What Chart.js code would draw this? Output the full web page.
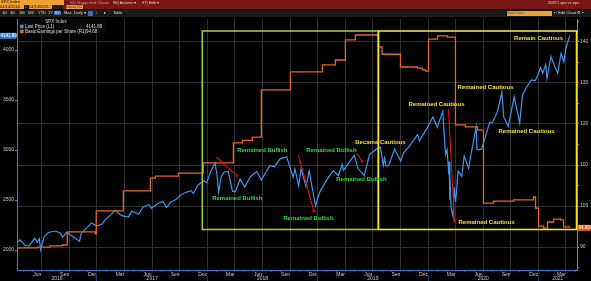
<!DOCTYPE html>
<html>
<head>
<meta charset="utf-8">
<script src="https://cdn.jsdelivr.net/npm/chart.js@4.4.1/dist/chart.umd.min.js"></script>
<style>
  html, body { margin: 0; padding: 0; background: #000; }
  #wrap { position: relative; width: 591px; height: 281px; overflow: hidden; background: #000;
          font-family: 'Liberation Sans', Arial, sans-serif; }
  #wrap canvas { position: absolute; left: 0; top: 0; }
  .hd { position: absolute; font-size: 4px; line-height: 4.5px; white-space: nowrap; color: #ddd; }
  .or { background: #f0a030; color: #111; }
</style>
</head>
<body>
<div id="wrap">
  <canvas id="chart" width="591" height="281"></canvas>

  <!-- Bloomberg header bars -->
  <div class="hd" style="left:63px;top:0;width:528px;height:9px;background:#7a1616;"></div>
  <div class="hd or" style="left:0;top:0;width:63px;height:4.5px;padding-left:1px;">SPX Index</div>
  <div class="hd" style="left:0;top:4.5px;width:63px;height:4.5px;background:#1c1c1c;"></div>
  <div class="hd or" style="left:0;top:5px;width:24px;height:4px;">04/14/2016</div>
  <div class="hd" style="left:25px;top:5px;">-</div>
  <div class="hd or" style="left:29px;top:5px;width:23px;height:4px;">04/14/2021</div>
  <div class="hd or" style="left:66px;top:5px;width:17px;height:4px;">Local CCY</div>
  <div class="hd" style="left:70px;top:0.5px;color:#c99;">96) Suggested Charts</div>
  <div class="hd" style="left:113px;top:0.5px;">96) Actions ▾</div>
  <div class="hd" style="left:142px;top:0.5px;">97) Edit ▾</div>
  <div class="hd" style="left:548px;top:1px;">20371 spx vs eps</div>
  <div class="hd" style="left:0;top:10px;width:591px;height:6.5px;background:#1a1a1a;"></div>
  <div class="hd" style="left:2px;top:11px;">1D</div>
  <div class="hd" style="left:10px;top:11px;">3D</div>
  <div class="hd" style="left:19px;top:11px;">1M</div>
  <div class="hd" style="left:28px;top:11px;">6M</div>
  <div class="hd" style="left:38px;top:11px;">YTD</div>
  <div class="hd" style="left:48px;top:11px;">1Y</div>
  <div class="hd" style="left:54px;top:10.5px;background:#2f6fc8;color:#fff;padding:0 1px;">5Y</div>
  <div class="hd" style="left:64px;top:11px;">Max</div>
  <div class="hd" style="left:74px;top:11px;">Daily ▾</div>
  <div class="hd" style="left:88px;top:10.5px;width:5px;height:5px;background:#2f6fc8;"></div>
  <div class="hd" style="left:95px;top:11px;">↕</div>
  <div class="hd" style="left:104px;top:11px;">▸</div>
  <div class="hd" style="left:113px;top:11px;">Table</div>
  <div class="hd or" style="left:507px;top:11px;width:45px;height:4.5px;color:#555;">Add Data</div>
  <div class="hd" style="left:554px;top:11px;">▪ ⁄ Edit Chart ⚙ ▪</div>
</div>

<script>
// S&P 500 last price (left axis). x = months since 1 Jan 2016
var spxMonths = [3.43, 3.63, 4.13, 4.6, 5.23, 5.5, 5.73, 5.87, 6.23, 6.7, 7.47, 8.0, 8.27, 8.7, 9.43,
  10.1, 10.27, 10.8, 11.4, 11.97,
  12.6, 12.83, 13.47, 14.0, 14.67, 15.4, 15.8, 16.53, 17.0, 17.6, 17.93, 18.83, 19.2, 19.57, 20.0,
  20.63, 21.13, 21.63, 22.23, 22.47, 22.97, 23.57, 23.93,
  24.37, 24.83, 25.03, 25.23, 25.5, 25.83, 26.27, 26.73, 27.03, 27.57, 28.07, 28.67, 29.37, 29.87,
  30.8, 31.3, 31.93, 32.63, 33.33, 33.53, 33.93, 34.2, 34.73, 35.07, 35.43, 35.77, 36.0,
  36.3, 37.0, 37.7, 38.23, 38.67, 38.8, 39.97, 40.4, 41.07, 41.63, 42.47, 42.83, 43.13, 43.27,
  43.43, 43.73, 44.37, 45.03, 45.33, 45.97, 46.87, 47.07, 47.97,
  48.53, 49.0, 49.6, 49.9, 50.07, 50.27, 50.3, 50.37, 50.4, 50.5, 50.73, 50.83, 51.0, 51.27,
  51.67, 51.93, 52.4, 53.23, 53.33, 53.83, 54.7, 55.0, 55.57, 56.03, 56.23, 56.73, 57.37, 57.97,
  58.27, 58.77, 59.23, 59.67, 59.97,
  60.23, 60.47, 60.8, 60.93, 61.37, 61.8, 62.1, 62.47, 62.77, 63.0, 63.4];
var spxValues = [2082, 2102, 2050, 2040, 2119, 2077, 2113, 2000, 2130, 2175, 2190, 2171, 2128, 2177, 2133,
  2085, 2163, 2213, 2271, 2239,
  2263, 2296, 2349, 2396, 2344, 2329, 2388, 2357, 2430, 2453, 2419, 2477, 2480, 2425, 2477,
  2508, 2552, 2575, 2594, 2565, 2648, 2690, 2674,
  2786, 2873, 2762, 2581, 2732, 2780, 2786, 2588, 2582, 2708, 2630, 2733, 2786, 2699,
  2846, 2833, 2914, 2931, 2728, 2809, 2641, 2814, 2633, 2790, 2610, 2440, 2520,
  2596, 2704, 2793, 2743, 2855, 2798, 2946, 2812, 2744, 2954, 3014, 3026, 2845, 2919,
  2840, 2847, 3009, 2888, 2970, 3038, 3154, 3093, 3231,
  3330, 3226, 3386, 2954, 3003, 2747, 2882, 2500, 2711, 2420, 2330, 2630, 2480, 2790,
  2737, 2940, 2820, 3232, 3002, 3009, 3276, 3271, 3390, 3580, 3332, 3237, 3534, 3270,
  3550, 3635, 3702, 3694, 3756,
  3824, 3768, 3855, 3714, 3934, 3829, 3768, 3968, 3881, 4020, 4141.89];

// Basic earnings per share (right axis), value after each change
var epsMonths = [3.32, 5.61, 6.91, 8.22, 8.76, 11.81, 11.92, 14.86, 17.8, 18.34, 20.84, 23.56, 26.83,
  27.81, 28.9, 29.87, 33.03, 36.51, 37.93, 39.01, 40.1, 42.6, 43.0, 45.0, 46.85, 47.39, 47.72,
  48.05, 49.03, 50.11, 50.98, 52.07, 53.38, 54.03, 55.12, 57.3, 59.47, 59.69, 60.02, 60.56, 61.0,
  61.65, 62.41, 62.74, 63.4];
var epsValues = [89.8, 90.0, 90.3, 90.5, 93.7, 93.2, 98.8, 103.7, 106.8, 107.3, 108.0, 110.5, 115.4,
  116.0, 116.8, 128.3, 132.7, 134.4, 135.6, 140.5, 141.7, 138.8, 137.0, 133.9, 133.6, 133.2, 132.9,
  140.7, 141.5, 141.2, 119.8, 119.3, 118.5, 100.7, 101.2, 101.5, 102.2, 99.5, 95.1, 94.6, 96.1,
  96.8, 96.6, 94.9, 94.68];

var monthNames = ['Jan', 'Feb', 'Mar', 'Apr', 'May', 'Jun', 'Jul', 'Aug', 'Sep', 'Oct', 'Nov', 'Dec'];
var yearLabels = ['2016', '2017', '2018', '2019', '2020', '2021'];
var yearCentres = [7.65, 18, 30, 42, 54, 62.1];
var yearBounds = [12, 24, 36, 48, 60];
var leftTicks = [2000, 2500, 3000, 3500, 4000];

// annotations, in (month, index level)
var noteText = ['Remained Bullish', 'Remained Bullish', 'Remained Bullish', 'Remained Bullish',
  'Remained Bullish', 'Became Cautious', 'Remained Cautious', 'Remained Cautious',
  'Remained Cautious', 'Remained Cautious', 'Remain Cautious'];
var noteMonth = [29.98, 27.26, 34.99, 37.49, 40.76, 42.82, 48.92, 54.25, 58.71, 54.36, 60.02];
var noteLevel = [3000, 2520, 2320, 3000, 2710, 3080, 3460, 3630, 3190, 2280, 4120];
var noteColor = ['#22e030', '#22e030', '#22e030', '#22e030', '#22e030', '#f2e21e', '#f2e21e',
  '#f2e21e', '#f2e21e', '#f2e21e', '#f2e21e'];

var arrowFrom = [[24.98, 2930], [33.9, 2950], [40.21, 2970], [50.22, 3410]];
var arrowTo = [[27.37, 2730], [35.64, 2370], [40.97, 2870], [50.88, 2270]];

var boxFrom = [23.45, 42.6];
var boxTo = [42.6, 64.15];
var boxTop = 4190, boxBottom = 2205;
var boxColor = ['#9ccc1a', '#f4e41c'];

var BLUE = '#3b97ea', ORANGE = '#e8641e', GRID = '#303030', TXT = '#c8c8c8';
var FONT = "'Liberation Sans', Arial, sans-serif";

var overlay = {
  id: 'overlay',
  afterDatasetsDraw: function (chart) {
    var ctx = chart.ctx, x = chart.scales.x, y = chart.scales.y;
    ctx.save();
    // boxes
    ctx.lineWidth = 1.6;
    for (var b = 0; b < boxFrom.length; b++) {
      var x0 = x.getPixelForValue(boxFrom[b]), x1 = x.getPixelForValue(boxTo[b]);
      var y0 = y.getPixelForValue(boxTop), y1 = y.getPixelForValue(boxBottom);
      ctx.strokeStyle = boxColor[b];
      ctx.strokeRect(x0, y0, x1 - x0, y1 - y0);
    }
    // red arrows
    ctx.strokeStyle = '#e01010';
    ctx.fillStyle = '#e01010';
    ctx.lineWidth = 1.1;
    for (var a = 0; a < arrowFrom.length; a++) {
      var ax = x.getPixelForValue(arrowFrom[a][0]), ay = y.getPixelForValue(arrowFrom[a][1]);
      var bx = x.getPixelForValue(arrowTo[a][0]), by = y.getPixelForValue(arrowTo[a][1]);
      var ang = Math.atan2(by - ay, bx - ax);
      ctx.beginPath();
      ctx.moveTo(ax, ay);
      ctx.lineTo(bx - 2 * Math.cos(ang), by - 2 * Math.sin(ang));
      ctx.stroke();
      ctx.beginPath();
      ctx.moveTo(bx, by);
      ctx.lineTo(bx - 3.5 * Math.cos(ang - 0.5), by - 3.5 * Math.sin(ang - 0.5));
      ctx.lineTo(bx - 3.5 * Math.cos(ang + 0.5), by - 3.5 * Math.sin(ang + 0.5));
      ctx.closePath();
      ctx.fill();
    }
    // text notes
    ctx.font = 'bold 6px ' + FONT;
    ctx.textAlign = 'center';
    ctx.textBaseline = 'middle';
    for (var n = 0; n < noteText.length; n++) {
      ctx.fillStyle = noteColor[n];
      ctx.fillText(noteText[n], x.getPixelForValue(noteMonth[n]), y.getPixelForValue(noteLevel[n]));
    }
    ctx.restore();
  },
  afterDraw: function (chart) {
    var ctx = chart.ctx, y = chart.scales.y, y1 = chart.scales.y1;
    var lastSpx = spxValues[spxValues.length - 1], lastEps = epsValues[epsValues.length - 1];
    ctx.save();
    ctx.font = '4.5px ' + FONT;
    ctx.textBaseline = 'middle';
    // last value tags
    var ly = y.getPixelForValue(lastSpx);
    ctx.fillStyle = '#2f86e0';
    ctx.fillRect(0, ly - 3, 16.5, 6);
    ctx.fillStyle = '#fff';
    ctx.textAlign = 'left';
    ctx.fillText(lastSpx.toFixed(2), 0.5, ly);
    var ry = y1.getPixelForValue(lastEps);
    ctx.fillStyle = ORANGE;
    ctx.fillRect(577.5, ry - 3, 14, 6);
    ctx.fillStyle = '#fff';
    ctx.fillText(lastEps.toFixed(2), 578.5, ry);
    // legend box
    var l = chart.chartArea.left + 1, t = chart.chartArea.top;
    ctx.fillStyle = '#080808';
    ctx.fillRect(l, t, 88, 15);
    ctx.fillStyle = '#cfcfcf';
    ctx.textAlign = 'center';
    ctx.fillText('SPX Index', l + 38, t + 2.5);
    ctx.textAlign = 'left';
    var rows = [['Last Price (L1)', lastSpx.toFixed(2), BLUE, 7.5], ['Basic Earnings per Share (R1)', lastEps.toFixed(2), ORANGE, 12.5]];
    for (var r = 0; r < rows.length; r++) {
      ctx.fillStyle = rows[r][2];
      ctx.fillRect(l + 2, t + rows[r][3] - 1.8, 3.6, 3.6);
      ctx.fillStyle = '#dcdcdc';
      ctx.fillText(rows[r][0], l + 7, t + rows[r][3]);
      ctx.fillText(rows[r][1], l + 68, t + rows[r][3]);
    }
    ctx.restore();
  }
};

function pts(xs, ys) {
  return xs.map(function (m, i) { return { x: m, y: ys[i] }; });
}

new Chart(document.getElementById('chart'), {
  type: 'line',
  data: {
    datasets: [
      { label: 'Basic Earnings per Share (R1)', data: pts(epsMonths, epsValues), yAxisID: 'y1',
        borderColor: ORANGE, borderWidth: 1.3, pointRadius: 0, stepped: true, fill: false },
      { label: 'Last Price (L1)', data: pts(spxMonths, spxValues), yAxisID: 'y',
        borderColor: BLUE, borderWidth: 1.2, pointRadius: 0, tension: 0, fill: false }
    ]
  },
  options: {
    responsive: false,
    animation: false,
    layout: { padding: { top: 19, left: 0, right: 0, bottom: 0 } },
    plugins: { legend: { display: false }, tooltip: { enabled: false } },
    scales: {
      x: {
        type: 'linear', position: 'bottom', min: 3.3, max: 64.2, weight: 0,
        afterBuildTicks: function (s) {
          var t = [];
          for (var m = 4; m <= 64; m++) t.push({ value: m });
          s.ticks = t;
        },
        afterFit: function (s) { s.height = 6; },
        ticks: {
          autoSkip: false, maxRotation: 0, padding: 0, labelOffset: -4.6, color: TXT,
          font: { family: FONT, size: 5 },
          callback: function (v) { return v % 3 === 0 ? monthNames[(v - 1) % 12] : ''; }
        },
        grid: {
          color: function (c) { return c.tick && c.tick.value % 3 === 0 ? GRID : 'rgba(0,0,0,0)'; },
          tickColor: '#2f80d8', tickLength: 1.5
        },
        border: { color: '#2f80d8', width: 1 }
      },
      x2: {
        type: 'linear', position: 'bottom', min: 3.3, max: 64.2, weight: 1,
        afterBuildTicks: function (s) {
          s.ticks = yearBounds.concat(yearCentres).sort(function (a, b) { return a - b; })
            .map(function (v) { return { value: v }; });
        },
        afterFit: function (s) { s.height = 5; },
        ticks: {
          autoSkip: false, maxRotation: 0, padding: -5, color: TXT,
          font: { family: FONT, size: 5 },
          callback: function (v) {
            var i = yearCentres.indexOf(v);
            return i >= 0 ? yearLabels[i] : '';
          }
        },
        grid: {
          drawOnChartArea: false, tickLength: 5,
          color: function (c) { return c.tick && yearBounds.indexOf(c.tick.value) >= 0 ? '#1c3d70' : 'rgba(0,0,0,0)'; }
        },
        border: { display: false }
      },
      y: {
        type: 'linear', position: 'left', min: 1800, max: 4310,
        afterBuildTicks: function (s) { s.ticks = leftTicks.map(function (v) { return { value: v }; }); },
        afterFit: function (s) { s.width = 17; },
        ticks: { color: TXT, padding: 1, font: { family: FONT, size: 5 },
          callback: function (v) { return String(v); } },
        grid: { drawOnChartArea: false, tickLength: 2, color: '#2f80d8' },
        border: { color: '#2f80d8', width: 1 }
      },
      y1: {
        type: 'linear', position: 'right', min: 84.4, max: 145.6,
        afterBuildTicks: function (s) {
          var t = [];
          for (var v = 85; v <= 145; v += 5) t.push({ value: v });
          s.ticks = t;
        },
        afterFit: function (s) { s.width = 14; },
        ticks: { color: TXT, padding: 1, font: { family: FONT, size: 5 },
          callback: function (v) { return v % 10 === 0 ? String(v) : ''; } },
        grid: {
          color: function (c) { return c.tick && c.tick.value % 10 === 0 ? GRID : 'rgba(0,0,0,0)'; },
          tickColor: ORANGE, tickLength: 2
        },
        border: { color: ORANGE, width: 1 }
      }
    }
  },
  plugins: [overlay]
});
</script>
</body>
</html>
